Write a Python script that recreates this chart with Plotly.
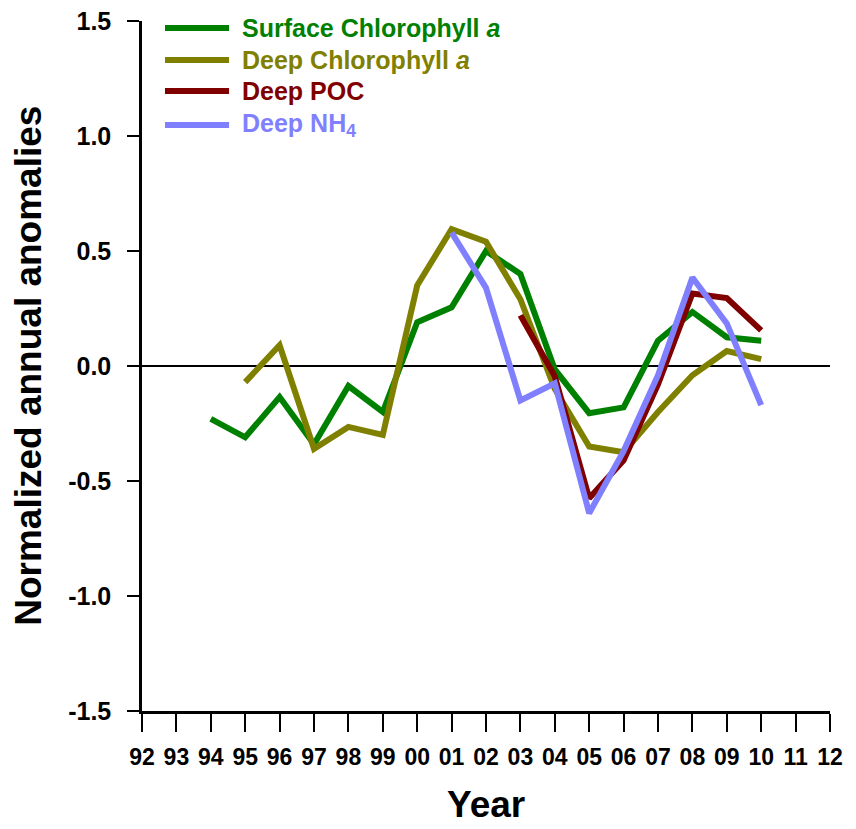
import plotly.graph_objects as go

# values
years = list(range(1992, 2013))
year_labels = [str(y)[2:] for y in years]

y_ticks = [-1.5, -1.0, -0.5, 0.0, 0.5, 1.0, 1.5]
y_tick_labels = ["-1.5", "-1.0", "-0.5", "0.0", "0.5", "1.0", "1.5"]

surface_chl_years = list(range(1994, 2011))
surface_chl = [-0.23, -0.31, -0.135, -0.34, -0.087, -0.20, 0.19, 0.255, 0.50,
               0.40, -0.015, -0.205, -0.18, 0.11, 0.235, 0.125, 0.11]

deep_chl_years = list(range(1995, 2011))
deep_chl = [-0.07, 0.09, -0.36, -0.265, -0.30, 0.35, 0.595, 0.54, 0.29,
            -0.10, -0.35, -0.375, -0.20, -0.04, 0.065, 0.03]

deep_poc_years = list(range(2003, 2011))
deep_poc = [0.22, -0.045, -0.575, -0.41, -0.08, 0.315, 0.295, 0.155]

deep_nh4_years = list(range(2001, 2011))
deep_nh4 = [0.58, 0.34, -0.15, -0.075, -0.64, -0.37, -0.04, 0.385, 0.185, -0.17]

series = [
    ("Surface Chlorophyll <i>a</i>", surface_chl_years, surface_chl, "#008000"),
    ("Deep Chlorophyll <i>a</i>", deep_chl_years, deep_chl, "#808000"),
    ("Deep POC", deep_poc_years, deep_poc, "#800000"),
    ("Deep NH<sub>4</sub>", deep_nh4_years, deep_nh4, "#8080FF"),
]

FONT = "Liberation Sans, Arial, sans-serif"

fig = go.Figure()

for name, xs, ys, color in series:
    fig.add_trace(go.Scatter(
        x=xs, y=ys, mode="lines", name=name,
        line=dict(color=color, width=6),
        showlegend=False,
    ))

# hand-made legend (long line samples like the original)
legend_rows = [0.9899, 0.9435, 0.8986, 0.8493]
for (name, _, _, color), ly in zip(series, legend_rows):
    fig.add_shape(type="line", xref="paper", yref="paper",
                  x0=0.0334, x1=0.1265, y0=ly, y1=ly,
                  line=dict(color=color, width=6))
    fig.add_annotation(xref="paper", yref="paper", x=0.1424, y=ly,
                       text=name, showarrow=False, xanchor="left", yanchor="middle",
                       font=dict(family=FONT, size=25, color=color, weight="bold"))

# axis titles
fig.add_annotation(xref="paper", yref="paper", x=-0.166, y=0.5,
                   text="Normalized annual anomalies", textangle=-90,
                   showarrow=False, xanchor="center", yanchor="middle",
                   font=dict(family=FONT, size=37, color="black", weight="bold"))
fig.add_annotation(xref="paper", yref="paper", x=0.5, y=-0.136,
                   text="Year", showarrow=False, xanchor="center", yanchor="middle",
                   font=dict(family=FONT, size=37, color="black", weight="bold"))

fig.update_xaxes(
    range=[1992, 2012], tickvals=years, ticktext=year_labels,
    showgrid=False, zeroline=False,
    showline=True, linecolor="black", linewidth=2.5,
    ticks="outside", ticklen=18, tickwidth=2, tickcolor="black",
    ticklabelstandoff=6, ticklabeloverflow="allow",
    tickfont=dict(family=FONT, size=23, color="black", weight="bold"),
)
fig.update_yaxes(
    range=[-1.5, 1.5], tickvals=y_ticks, ticktext=y_tick_labels,
    showgrid=False, zeroline=True, zerolinecolor="black", zerolinewidth=2,
    showline=True, linecolor="black", linewidth=2.5,
    ticks="outside", ticklen=12, tickwidth=2, tickcolor="black",
    ticklabelstandoff=11, ticklabeloverflow="allow",
    tickfont=dict(family=FONT, size=25, color="black", weight="bold"),
)

# the page body adds an 8 px offset, so the figure is 8 px smaller
fig.update_layout(
    width=848, height=821,
    margin=dict(l=134, r=26, t=13, b=118, autoexpand=False),
    plot_bgcolor="white", paper_bgcolor="white",
    font=dict(family=FONT, color="black"),
)

fig.write_html("out.html")
